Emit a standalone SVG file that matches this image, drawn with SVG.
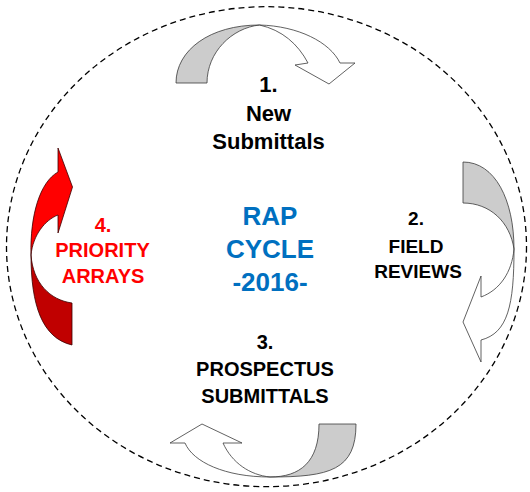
<svg xmlns="http://www.w3.org/2000/svg" width="530" height="492" viewBox="0 0 530 492">
<style>
  .t { font-family: "Liberation Sans", Arial, sans-serif; font-weight: bold; text-anchor: middle; }
  .blk { fill: #000000; }
  .blue { fill: #0070C0; font-size: 26px; }
  .red { fill: #FF0000; font-size: 20px; }
  .gray { fill: #CCCCCC; stroke: #3a3a3a; stroke-width: 0.8; stroke-linejoin: round; }
  .white { fill: #FFFFFF; stroke: #3a3a3a; stroke-width: 0.8; stroke-linejoin: miter; }
  .r1 { fill: #FF0000; stroke: #3a0000; stroke-width: 0.8; stroke-linejoin: miter; }
  .r2 { fill: #C00000; stroke: #3a0000; stroke-width: 0.8; stroke-linejoin: round; }
  .ring { fill: none; stroke: #000000; stroke-width: 1.3; stroke-dasharray: 6 4; }
</style>
<rect width="530" height="492" fill="#FFFFFF"/>
<g id="connectors">
  <ellipse class="ring" cx="266.5" cy="246.7" rx="260" ry="240"/>
  <g id="arrow-top">
    <path class="gray" d="M176,83 C176,50 210,25 259.5,25 C232,28 207,52 207,83 Z"/>
    <path class="white" d="M259.5,25 C298,26 330,42 340,63 L355,63 L329,84 L295,65 L308,63 C298,44 282,30 259.5,25 Z"/>
  </g>
  <g id="arrow-right">
    <path class="gray" d="M463,162 C495,162 514,200 514,249 C510,222 490,203 463,203 Z"/>
    <path class="white" d="M514,249 C514,305 508,333 481,340 L481,362 L463,322 L481,276 L481,297 C500,290 512,272 514,249 Z"/>
  </g>
  <g id="arrow-bottom">
    <path class="gray" d="M356,424 C356,470 330,477 270,477 C300,477 319,462 319,424 Z"/>
    <path class="white" d="M270,477 C225,477 193,462 185,443 L170,443 L202,424 L242,443 L223,443 C232,463 250,475 270,477 Z"/>
  </g>
  <g id="arrow-left">
    <path class="r2" d="M72,345 C42,338 31,305 31,255 C33,283 50,300 72,303 Z"/>
    <path class="r1" d="M31,255 C30,215 40,182 58,172 L58,148 L72.5,187 L58,233 L58,215 C45,220 33,235 31,255 Z"/>
  </g>
</g>
<g id="node-1">
  <text class="t blk" x="268.5" y="92.3" font-size="22">1.</text>
  <text class="t blk" x="268.5" y="121" font-size="22">New</text>
  <text class="t blk" x="268.5" y="149.3" font-size="22">Submittals</text>
</g>
<g id="node-center">
  <text class="t blue" x="270" y="225">RAP</text>
  <text class="t blue" x="270" y="258.3">CYCLE</text>
  <text class="t blue" x="270" y="290.7">-2016-</text>
</g>
<g id="node-2">
  <text class="t blk" x="416" y="225" font-size="19">2.</text>
  <text class="t blk" x="416" y="253.3" font-size="19">FIELD</text>
  <text class="t blk" x="418" y="278.3" font-size="19">REVIEWS</text>
</g>
<g id="node-3">
  <text class="t blk" x="265" y="349.3" font-size="20">3.</text>
  <text class="t blk" x="265" y="376" font-size="20">PROSPECTUS</text>
  <text class="t blk" x="265" y="403.3" font-size="20">SUBMITTALS</text>
</g>
<g id="node-4">
  <text class="t red" x="103" y="231.7">4.</text>
  <text class="t red" x="102.5" y="257.3">PRIORITY</text>
  <text class="t red" x="103" y="283.3">ARRAYS</text>
</g>
</svg>
